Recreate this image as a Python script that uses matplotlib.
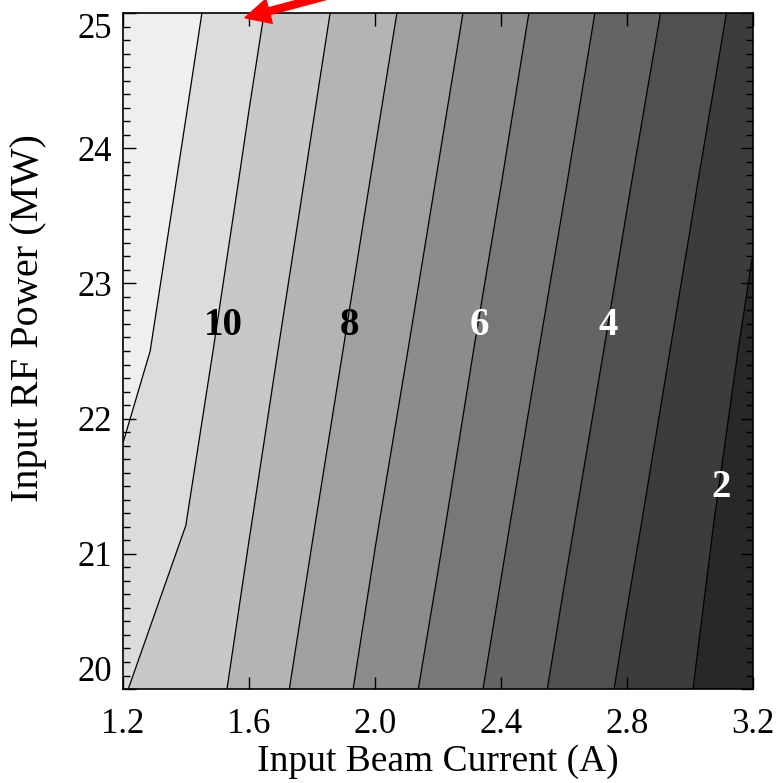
import numpy as np
import matplotlib
matplotlib.use("Agg")
import matplotlib.pyplot as plt
from matplotlib.ticker import MultipleLocator

plt.rcParams['font.family'] = ['Liberation Serif', 'DejaVu Serif']

# --- data (coarse simulation grid) ---
current = [1.2, 1.4, 1.6, 1.8, 2.0, 2.2, 2.4, 2.6, 2.8, 3.0, 3.2]      # A
power = [20.0, 21.25, 22.5, 23.75, 25.0]                                 # MW
z_20_00 = [10.03, 9.67, 8.64, 7.64, 6.66, 5.70, 4.72, 3.74, 2.81, 2.04, 1.21]
z_21_25 = [10.63, 10.01, 9.05, 8.06, 7.07, 6.13, 5.15, 4.17, 3.21, 2.33, 1.47]
z_22_50 = [11.44, 10.42, 9.44, 8.48, 7.50, 6.54, 5.58, 4.61, 3.64, 2.70, 1.78]
z_23_75 = [11.86, 10.84, 9.83, 8.88, 7.92, 6.96, 6.01, 5.05, 4.07, 3.12, 2.16]
z_25_00 = [12.30, 11.26, 10.23, 9.27, 8.33, 7.38, 6.42, 5.47, 4.51, 3.55, 2.60]

line_levels = [2, 3, 4, 5, 6, 7, 8, 9, 10, 11]
fill_levels = [0] + line_levels + [14]
label_levels = [10, 8, 6, 4, 2]

xticks = [1.2, 1.6, 2.0, 2.4, 2.8, 3.2]
yticks = [20, 21, 22, 23, 24, 25]

# --- styles ---
band_colors = ['#282828', '#3c3c3c', '#505050', '#646464', '#787878', '#8c8c8c',
               '#a0a0a0', '#b4b4b4', '#c8c8c8', '#dcdcdc', '#efefef']
label_pos = [(1.52, 22.69), (1.92, 22.69), (2.33, 22.69), (2.74, 22.69), (3.10, 21.49)]
label_col = ['black', 'black', 'white', 'white', 'white']

X, Y = np.meshgrid(current, power)
Z = np.array([z_20_00, z_21_25, z_22_50, z_23_75, z_25_00])

fig = plt.figure(figsize=(7.8, 7.83), dpi=100)
ax = fig.add_axes([0.1577, 0.1200, 0.8077, 0.8634])

ax.contourf(X, Y, Z, levels=fill_levels, colors=band_colors)
ax.contour(X, Y, Z, levels=line_levels, colors='black', linewidths=0.9)

for lev, (px, py), c in zip(label_levels, label_pos, label_col):
    ax.text(px, py, str(lev), ha='center', va='center', color=c,
            fontsize=28, fontweight='bold')

ax.set_xlim(1.2, 3.2)
ax.set_ylim(20, 25)
ax.set_xticks(xticks)
ax.set_xticklabels([f"{v:.1f}" for v in xticks])
ax.set_yticks(yticks)
ax.set_yticklabels([str(v) for v in yticks])
ax.yaxis.set_minor_locator(MultipleLocator(0.1))

ax.tick_params(which='both', direction='in', top=True, right=True,
               labelsize=25, width=1.0, color='black')
ax.tick_params(which='major', length=9)
ax.tick_params(which='minor', length=5)
ax.tick_params(axis='x', pad=14)
ax.tick_params(axis='y', pad=8)

# end labels kept inside the axis range, like the original
ylabs = ax.get_yticklabels()
ylabs[0].set_va('bottom')
ylabs[-1].set_va('top')

for s in ax.spines.values():
    s.set_linewidth(1.2)

ax.set_xlabel("Input Beam Current (A)", fontsize=27, labelpad=2)
ax.set_ylabel("Input RF Power (MW)", fontsize=29)
ax.yaxis.set_label_coords(-0.12, 0.549)

# red arrow pointing at the top edge
ax.annotate('', xy=(1.587, 24.965), xytext=(1.90, 25.16),
            xycoords='data', textcoords='data', annotation_clip=False,
            arrowprops=dict(facecolor='red', edgecolor='red',
                            width=5, headwidth=18, headlength=18))

fig.savefig("out.png", dpi=100)
